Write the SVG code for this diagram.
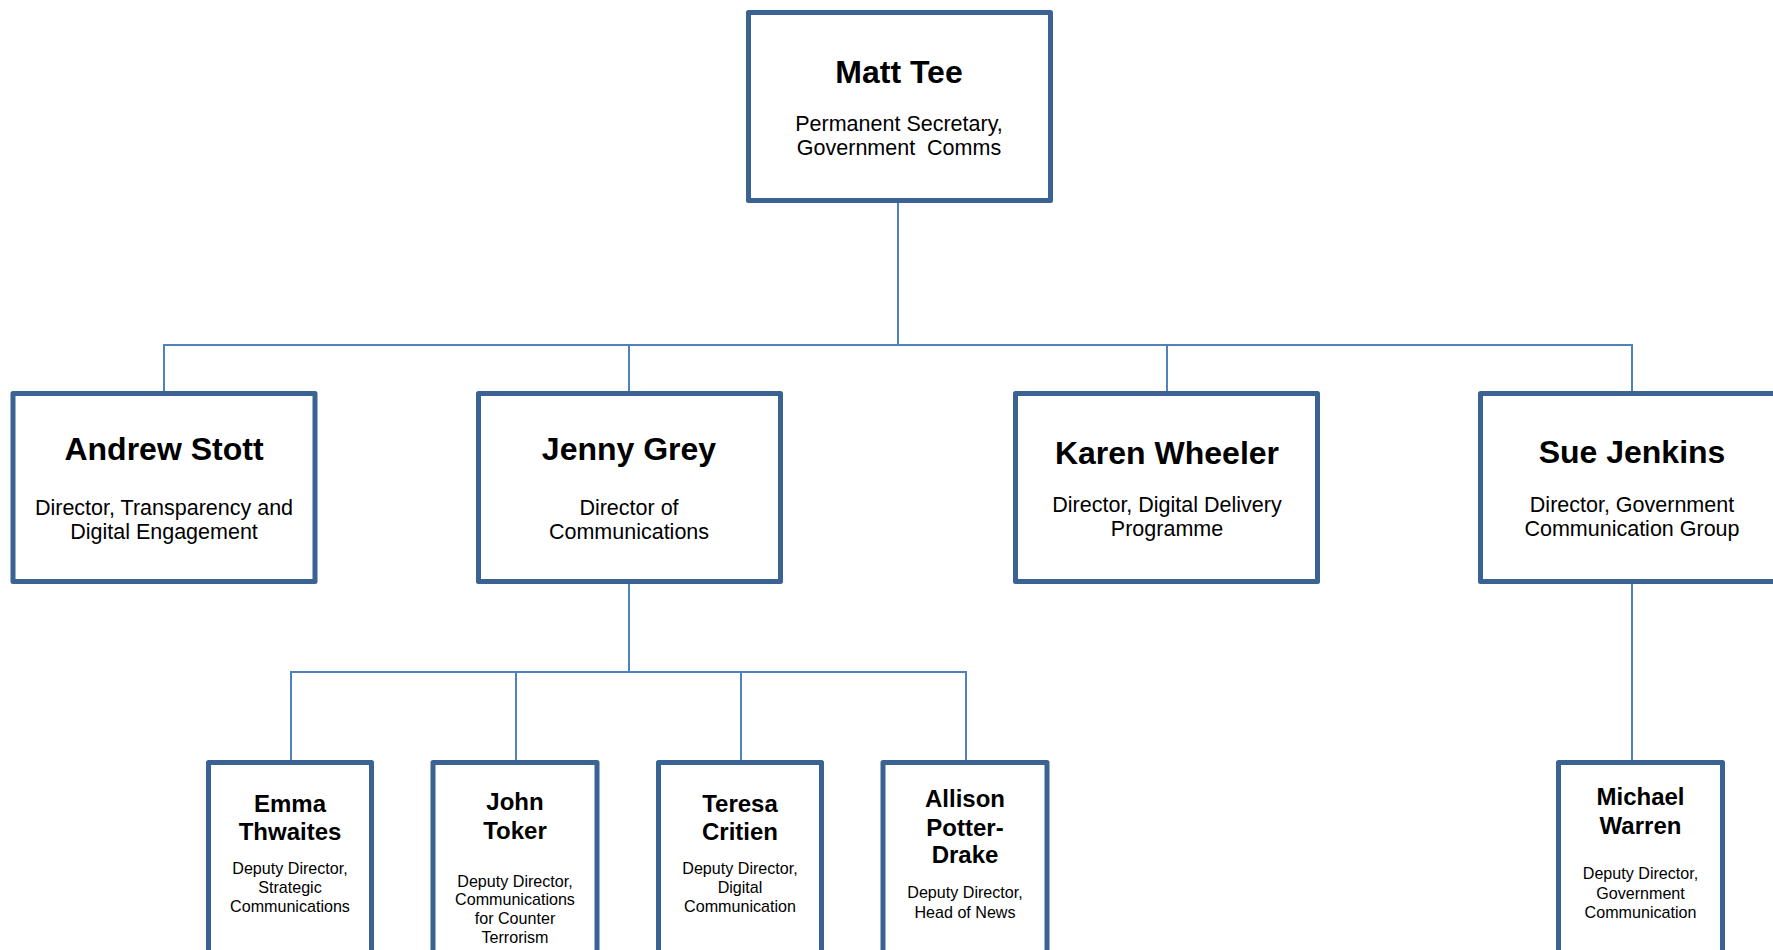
<svg xmlns="http://www.w3.org/2000/svg" width="1773" height="950" viewBox="0 0 1773 950">
<style>
.box{fill:#fff;stroke:#3A6293;stroke-width:5;stroke-linejoin:round}
.conn{fill:none;stroke:#4F81BD;stroke-width:2}
text{font-family:"Liberation Sans",Arial,sans-serif;fill:#000;text-anchor:middle}
.n1{font-size:32px;font-weight:bold}
.s1{font-size:21.5px}
.n2{font-size:24px;font-weight:bold}
.s2{font-size:16.1px}
</style>
<rect width="1773" height="950" fill="#fff"/>
<g id="connectors">
<path class="conn" d="M898 202 V345 M164 391 V345 H1632 V391 M629 345 V391 M1167 345 V391"/>
<path class="conn" d="M629 584 V672 M291 760 V672 H966 V760 M516 672 V760 M741 672 V760"/>
<path class="conn" d="M1632 584 V760"/>
</g>
<g id="matt-tee">
<rect class="box" x="748.5" y="12.5" width="302" height="188"/>
<text class="n1" x="899" y="83">Matt Tee</text>
<text class="s1" x="899" y="131">Permanent Secretary,</text>
<text class="s1" x="899" y="155" xml:space="preserve">Government&#160; Comms</text>
</g>
<g id="andrew-stott">
<rect class="box" x="13" y="393.5" width="302" height="188"/>
<text class="n1" x="164" y="460">Andrew Stott</text>
<text class="s1" x="164" y="515">Director, Transparency and</text>
<text class="s1" x="164" y="539">Digital Engagement</text>
</g>
<g id="jenny-grey">
<rect class="box" x="478.5" y="393.5" width="302" height="188"/>
<text class="n1" x="629" y="460">Jenny Grey</text>
<text class="s1" x="629" y="515">Director of</text>
<text class="s1" x="629" y="539">Communications</text>
</g>
<g id="karen-wheeler">
<rect class="box" x="1015.5" y="393.5" width="302" height="188"/>
<text class="n1" x="1167" y="464">Karen Wheeler</text>
<text class="s1" x="1167" y="512">Director, Digital Delivery</text>
<text class="s1" x="1167" y="536">Programme</text>
</g>
<g id="sue-jenkins">
<rect class="box" x="1480.5" y="393.5" width="302" height="188"/>
<text class="n1" x="1632" y="463">Sue Jenkins</text>
<text class="s1" x="1632" y="512">Director, Government</text>
<text class="s1" x="1632" y="536">Communication Group</text>
</g>
<g id="emma-thwaites">
<rect class="box" x="208.5" y="762.5" width="163" height="220"/>
<text class="n2" x="290" y="812">Emma</text>
<text class="n2" x="290" y="840">Thwaites</text>
<text class="s2" x="290" y="874">Deputy Director,</text>
<text class="s2" x="290" y="893">Strategic</text>
<text class="s2" x="290" y="912">Communications</text>
</g>
<g id="john-toker">
<rect class="box" x="433" y="762.5" width="164" height="220"/>
<text class="n2" x="515" y="810">John</text>
<text class="n2" x="515" y="839">Toker</text>
<text class="s2" x="515" y="887">Deputy Director,</text>
<text class="s2" x="515" y="905">Communications</text>
<text class="s2" x="515" y="924">for Counter</text>
<text class="s2" x="515" y="943">Terrorism</text>
</g>
<g id="teresa-critien">
<rect class="box" x="658.5" y="762.5" width="163" height="220"/>
<text class="n2" x="740" y="812">Teresa</text>
<text class="n2" x="740" y="840">Critien</text>
<text class="s2" x="740" y="874">Deputy Director,</text>
<text class="s2" x="740" y="893">Digital</text>
<text class="s2" x="740" y="912">Communication</text>
</g>
<g id="allison-potter-drake">
<rect class="box" x="883" y="762.5" width="164" height="220"/>
<text class="n2" x="965" y="807">Allison</text>
<text class="n2" x="965" y="836">Potter-</text>
<text class="n2" x="965" y="863">Drake</text>
<text class="s2" x="965" y="898">Deputy Director,</text>
<text class="s2" x="965" y="918">Head of News</text>
</g>
<g id="michael-warren">
<rect class="box" x="1558.5" y="762.5" width="164" height="220"/>
<text class="n2" x="1640.5" y="805">Michael</text>
<text class="n2" x="1640.5" y="834">Warren</text>
<text class="s2" x="1640.5" y="879">Deputy Director,</text>
<text class="s2" x="1640.5" y="899">Government</text>
<text class="s2" x="1640.5" y="918">Communication</text>
</g>
</svg>
